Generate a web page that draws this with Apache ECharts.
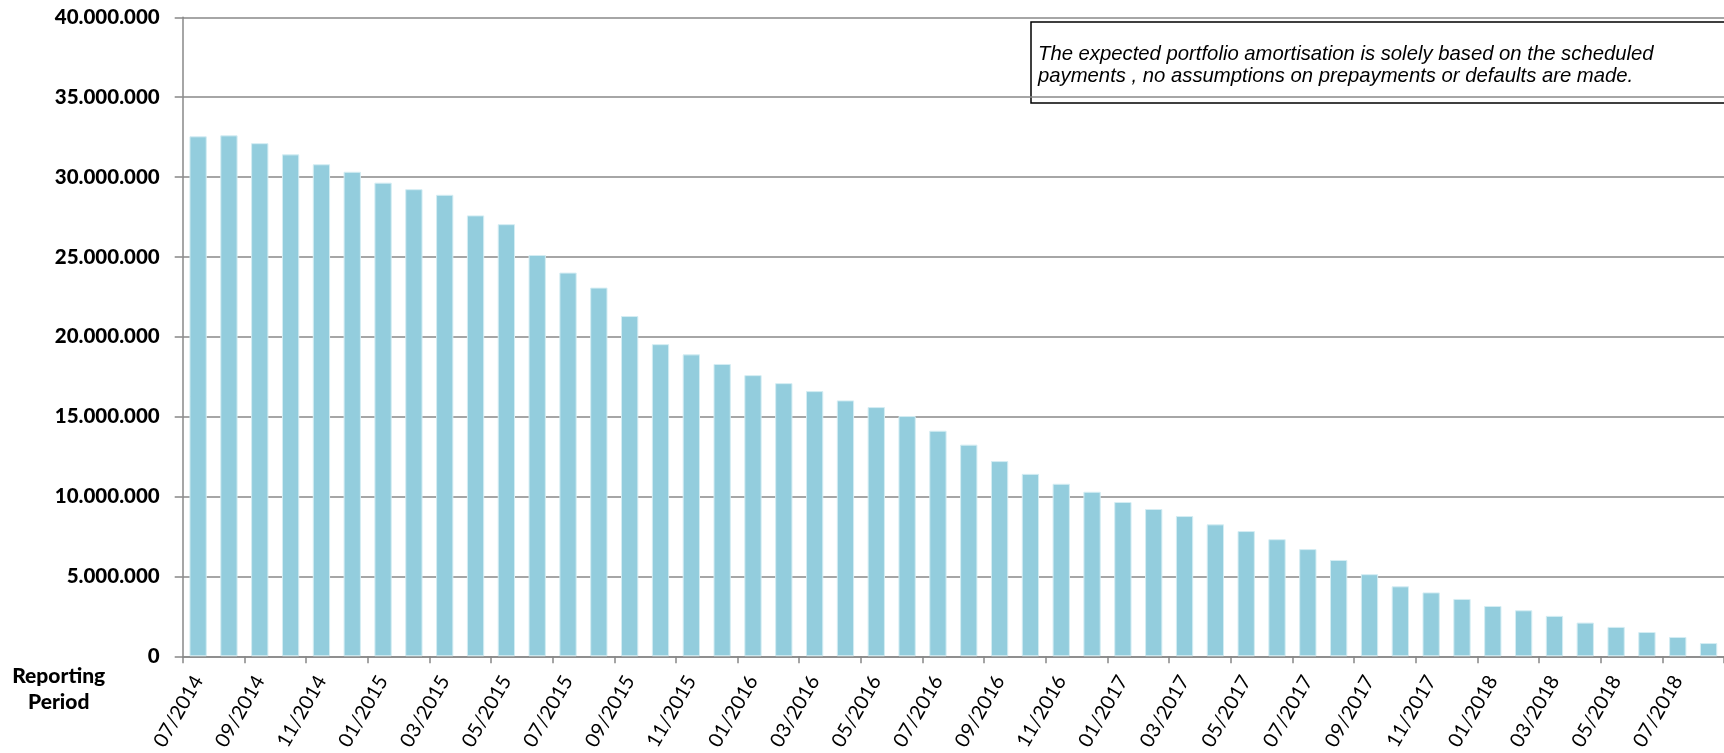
<!DOCTYPE html>
<html>
<head>
<meta charset="utf-8">
<script src="https://cdn.jsdelivr.net/npm/echarts@6/dist/echarts.min.js"></script>
<style>
  html, body { margin: 0; padding: 0; background: #ffffff; }
  #chart { width: 1724px; height: 753px; }
</style>
</head>
<body>
<div id="chart"></div>
<script>
const categories = [
  "07/2014","08/2014","09/2014","10/2014","11/2014","12/2014",
  "01/2015","02/2015","03/2015","04/2015","05/2015","06/2015","07/2015","08/2015","09/2015","10/2015","11/2015","12/2015",
  "01/2016","02/2016","03/2016","04/2016","05/2016","06/2016","07/2016","08/2016","09/2016","10/2016","11/2016","12/2016",
  "01/2017","02/2017","03/2017","04/2017","05/2017","06/2017","07/2017","08/2017","09/2017","10/2017","11/2017","12/2017",
  "01/2018","02/2018","03/2018","04/2018","05/2018","06/2018","07/2018","08/2018"
];
const amortisation = [
  32550000, 32610000, 32120000, 31420000, 30800000, 30330000,
  29650000, 29240000, 28890000, 27600000, 27050000, 25120000, 24020000, 23080000, 21300000, 19540000, 18900000, 18300000,
  17600000, 17100000, 16600000, 16020000, 15600000, 15040000, 14120000, 13250000, 12220000, 11420000, 10800000, 10300000,
  9660000, 9220000, 8780000, 8260000, 7840000, 7330000, 6710000, 6030000, 5140000, 4380000, 4000000, 3590000,
  3150000, 2880000, 2530000, 2110000, 1840000, 1520000, 1210000, 830000
];
const yTicks = { min: 0, max: 40000000, interval: 5000000 };
const xAxisTitle = ["Reporting", "Period"];
const noteLines = [
  "The expected portfolio amortisation is solely based on the scheduled",
  "payments , no assumptions on prepayments or defaults are made."
];

function fmt(v) {
  return String(Math.round(v)).replace(/\B(?=(\d{3})+(?!\d))/g, ".");
}

const chart = echarts.init(document.getElementById('chart'), null, { renderer: 'canvas' });
chart.setOption({
  animation: false,
  backgroundColor: '#ffffff',
  grid: { left: 182.7, right: -8.7, top: 17.3, bottom: 94.7, containLabel: false },
  xAxis: {
    type: 'category',
    data: categories,
    boundaryGap: true,
    axisLine: { show: true, lineStyle: { color: '#888888', width: 1.5 } },
    axisTick: { show: true, interval: 1, length: 7, alignWithLabel: false, lineStyle: { color: '#888888', width: 1.5 } },
    axisLabel: {
      interval: 1, rotate: 60, margin: 21,
      fontFamily: 'Lato', fontSize: 20, color: '#000000'
    },
    splitLine: { show: false }
  },
  yAxis: {
    type: 'value',
    min: yTicks.min, max: yTicks.max, interval: yTicks.interval,
    axisLine: { show: true, lineStyle: { color: '#888888', width: 1.5 } },
    axisTick: { show: true, length: 8, lineStyle: { color: '#888888', width: 1.5 } },
    axisLabel: {
      margin: 23, fontFamily: 'Lato', fontWeight: 900, fontSize: 20.5, color: '#000000',
      formatter: fmt
    },
    splitLine: { show: true, lineStyle: { color: '#888888', width: 1.5 } }
  },
  series: [{
    type: 'bar',
    data: amortisation,
    barWidth: 17.3,
    itemStyle: { color: '#93CDDD', borderColor: '#d4edf3', borderWidth: 1 }
  }],
  graphic: [
    {
      type: 'text', x: 58.7, y: 689,
      style: {
        text: xAxisTitle.join('\n'), fontFamily: 'Lato', fontWeight: 900, fontSize: 21,
        lineHeight: 26, fill: '#000000', align: 'center', verticalAlign: 'middle'
      }
    },
    {
      type: 'group', x: 1031, y: 22,
      children: [
        { type: 'rect', shape: { x: 0, y: 0, width: 760, height: 81 },
          style: { fill: '#ffffff', stroke: '#000000', lineWidth: 1.5 } },
        { type: 'text', x: 7, y: 21,
          style: { text: noteLines.join('\n'), fontFamily: 'Liberation Sans', fontStyle: 'italic',
                   fontSize: 20.3, lineHeight: 22, fill: '#000000', verticalAlign: 'top' } }
      ]
    }
  ]
});
</script>
</body>
</html>
